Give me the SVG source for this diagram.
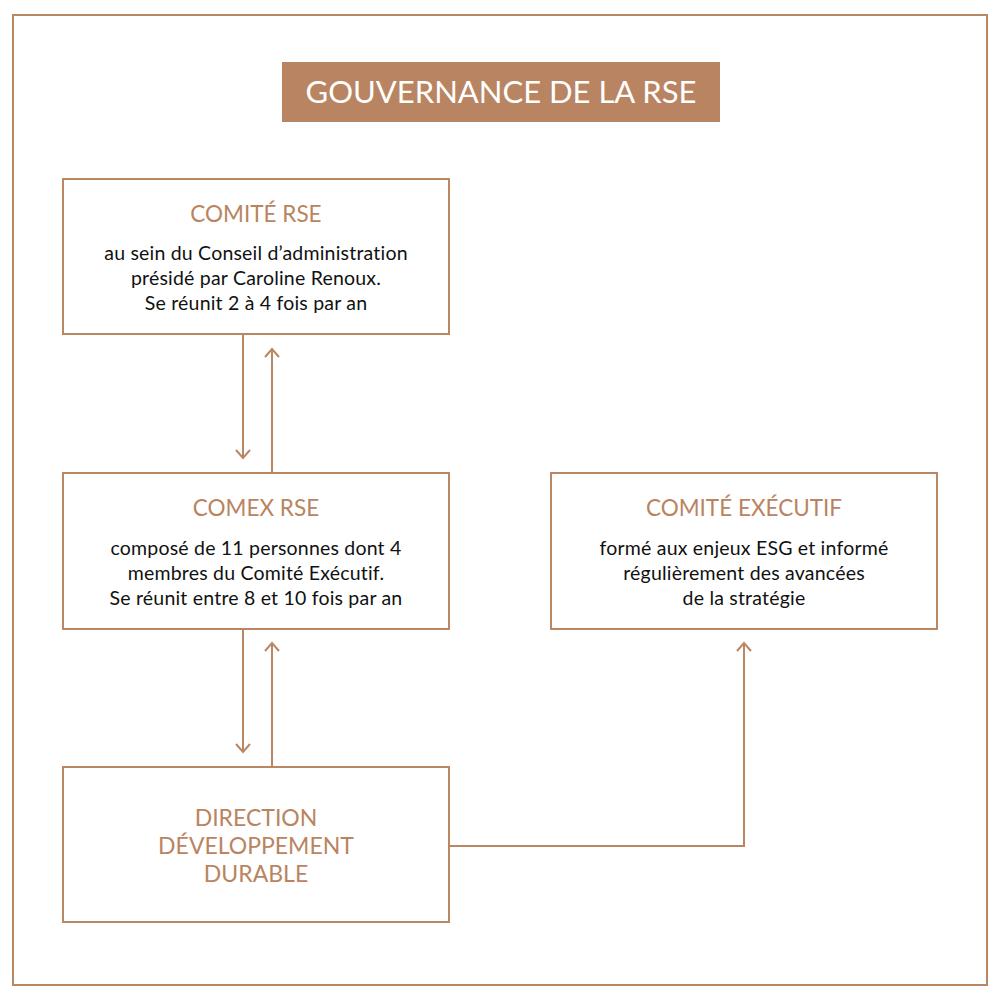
<svg xmlns="http://www.w3.org/2000/svg" width="1000" height="1000" viewBox="0 0 1000 1000">
<style>
.frame{fill:none;stroke:#bb8662;stroke-width:2}
.box{fill:#fff;stroke:#bb8662;stroke-width:2}
.ttl{font-family:Lato,"Noto Sans",sans-serif;font-size:22.5px;fill:#b9845f;text-anchor:middle}
.big{font-family:Lato,"Noto Sans",sans-serif;font-size:23px;fill:#b9845f;text-anchor:middle}
.body{font-family:Lato,"Noto Sans",sans-serif;font-size:19.5px;letter-spacing:0.2px;fill:#111;text-anchor:middle}
.head{font-family:Lato,"Noto Sans",sans-serif;font-size:31px;fill:#fff;text-anchor:middle}
.conn{fill:none;stroke:#bb8662;stroke-width:2}
</style>
<defs>
<marker id="arr" viewBox="0 0 16 16" refX="14" refY="8" markerWidth="16" markerHeight="16" markerUnits="userSpaceOnUse" orient="auto">
<path d="M6,1 L14,8 L6,15" fill="none" stroke="#bb8662" stroke-width="2"/>
</marker>
</defs>
<rect width="1000" height="1000" fill="#fff"/>
<rect class="frame" x="13" y="15" width="974" height="970"/>
<g id="title">
<rect x="282" y="62" width="438" height="60" fill="#b98462"/>
<text class="head" x="501" y="103">GOUVERNANCE DE LA RSE</text>
</g>
<g id="connectors">
<line class="conn" x1="243" y1="335" x2="243" y2="458" marker-end="url(#arr)"/>
<line class="conn" x1="272" y1="473" x2="272" y2="349" marker-end="url(#arr)"/>
<line class="conn" x1="243" y1="629" x2="243" y2="752" marker-end="url(#arr)"/>
<line class="conn" x1="272" y1="767" x2="272" y2="643" marker-end="url(#arr)"/>
<polyline class="conn" points="449,846 744,846 744,643" marker-end="url(#arr)"/>
</g>
<g id="comite-rse">
<rect class="box" x="63" y="179" width="386" height="155"/>
<text class="ttl" x="256" y="222">COMITÉ RSE</text>
<text class="body" x="256" y="260">au sein du Conseil d’administration</text>
<text class="body" x="256" y="285">présidé par Caroline Renoux.</text>
<text class="body" x="256" y="310">Se réunit 2 à 4 fois par an</text>
</g>
<g id="comex-rse">
<rect class="box" x="63" y="473" width="386" height="156"/>
<text class="ttl" x="256" y="516">COMEX RSE</text>
<text class="body" x="256" y="555">composé de 11 personnes dont 4</text>
<text class="body" x="256" y="580">membres du Comité Exécutif.</text>
<text class="body" x="256" y="605">Se réunit entre 8 et 10 fois par an</text>
</g>
<g id="comite-executif">
<rect class="box" x="551" y="473" width="386" height="156"/>
<text class="ttl" x="744" y="516">COMITÉ EXÉCUTIF</text>
<text class="body" x="744" y="555">formé aux enjeux ESG et informé</text>
<text class="body" x="744" y="580">régulièrement des avancées</text>
<text class="body" x="744" y="605">de la stratégie</text>
</g>
<g id="direction-dd">
<rect class="box" x="63" y="767" width="386" height="155"/>
<text class="big" x="256" y="826">DIRECTION</text>
<text class="big" x="256" y="854">DÉVELOPPEMENT</text>
<text class="big" x="256" y="882">DURABLE</text>
</g>
</svg>
